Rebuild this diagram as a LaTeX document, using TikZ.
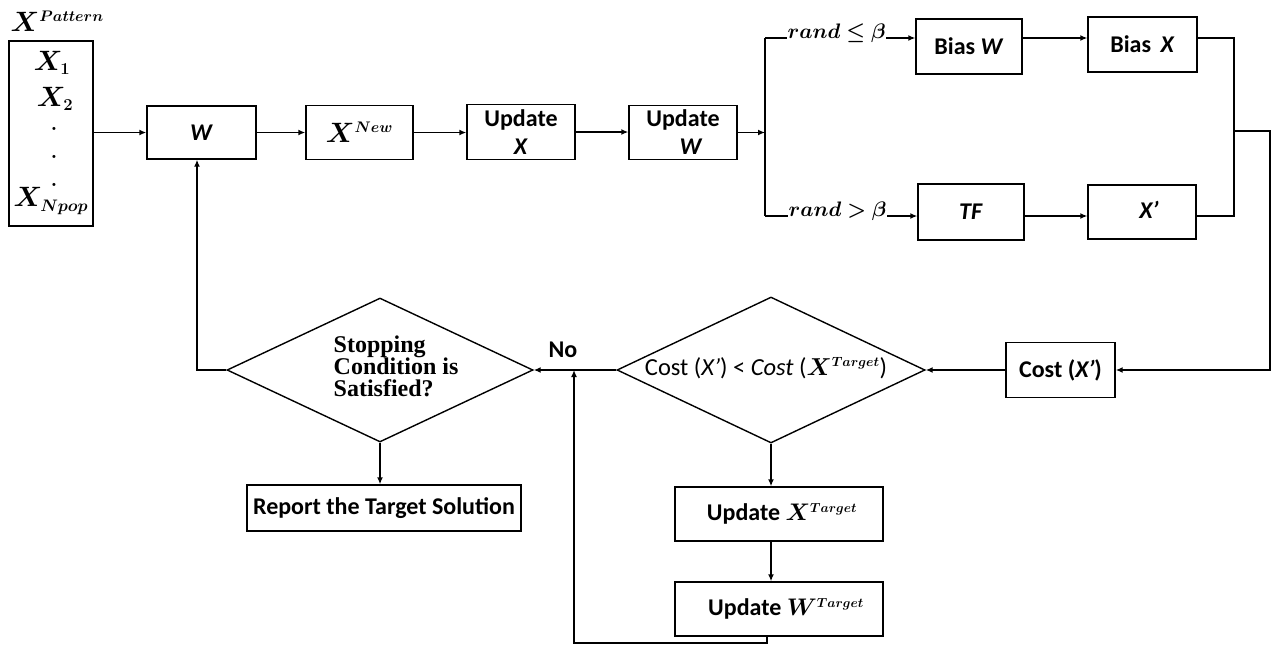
\RequirePackage{fix-cm}
\documentclass[tikz,border=0pt]{standalone}
\usepackage[no-math]{fontspec}
\usepackage{amsmath,bm}
\setmainfont{Carlito}
\newfontfamily\stopfont{Liberation Serif}
\usetikzlibrary{shapes.geometric,arrows.meta}
\newcommand\boxfont{\fontsize{24}{28}\selectfont\bfseries}
\newcommand\mathbig{\fontsize{28}{30}\selectfont}
% compact bold scripts
\newcommand\supsc[1]{^{\scalebox{0.78}{$\scriptstyle\bm{#1}$}}}
\newcommand\subsc[1]{_{\scalebox{0.85}{$\scriptstyle\bm{#1}$}}}
\begin{document}
\begin{tikzpicture}[x=1pt,y=-1pt,line width=1.4pt,
  blk/.style={draw,rectangle,inner sep=0pt,align=center,font=\boxfont},
  dia/.style={draw,diamond,inner sep=0pt},
  lbl/.style={inner sep=0pt,align=center},
  dotlbl/.style={inner sep=0pt,font=\fontsize{20}{20}\selectfont},
  arr/.style={-{Latex[length=7pt,width=6pt]}}]
\useasboundingbox (0,0) rectangle (1273,648);

% population of patterns
\node[blk,minimum width=84pt,minimum height=185pt] (pat) at (51,133.5) {};
\node[lbl,font=\mathbig,anchor=west] (pattitle) at (10,21) {$\bm{X}\supsc{Pattern}$};
\node[lbl,font=\mathbig] (x1) at (52,63) {$\bm{X}\subsc{1}$};
\node[lbl,font=\mathbig] (x2) at (55,99) {$\bm{X}\subsc{2}$};
\node[dotlbl] (d1) at (54,129) {$\bm{.}$};
\node[dotlbl] (d2) at (54,157) {$\bm{.}$};
\node[dotlbl] (d3) at (54,185) {$\bm{.}$};
\node[lbl,font=\mathbig] (xn) at (51,201) {$\bm{X}\subsc{Npop}$};

% main row
\node[blk,minimum width=109pt,minimum height=53pt] (w) at (201.5,132.5) {\textit{W}};
\node[blk,minimum width=107pt,minimum height=54pt] (xnew) at (359.5,132.5) {\mathbig$\bm{X}\supsc{New}$};
\node[blk,minimum width=108pt,minimum height=55pt] (ux) at (521,132) {Update\\\textit{X}};
\node[blk,minimum width=108pt,minimum height=54pt] (uw) at (683,132.5) {Update\\\hspace*{16pt}\textit{W}};

% branch
\coordinate (spl) at (765,132.5);
\coordinate (st) at (765,38);
\coordinate (sb) at (765,216);
\node[lbl,font=\fontsize{21}{24}\selectfont,anchor=base west] (le) at (787,38) {$\bm{rand \le \beta}$};
\node[lbl,font=\fontsize{21}{24}\selectfont,anchor=base west] (gt) at (788,216) {$\bm{rand > \beta}$};
\node[blk,minimum width=106pt,minimum height=55pt] (bw) at (969,46.5) {Bias \textit{W}};
\node[blk,minimum width=109pt,minimum height=55pt] (bx) at (1142.5,44.5) {Bias \,\textit{X}};
\node[blk,minimum width=106pt,minimum height=56pt] (tf) at (971,212) {\textit{TF}};
\node[blk,minimum width=108pt,minimum height=54pt] (xp) at (1142,212) {\hspace*{14pt}\textit{X’}\raisebox{0pt}[0pt][4pt]{}};
\coordinate (jt) at (1234,38);
\coordinate (jb) at (1234,216);
\coordinate (jm) at (1234,131);
\coordinate (rr) at (1270,131);
\coordinate (rb) at (1270,370);

% evaluation and loop
\node[blk,minimum width=109pt,minimum height=55pt] (cost) at (1060.5,370) {Cost (\textit{X’})};
\node[dia,minimum width=308pt,minimum height=146pt] (cd) at (771,370) {};
\node[lbl,font=\fontsize{24.5}{28}\selectfont] (cdt) at (766,368) {Cost (\textit{X’}) < \textit{Cost} (\({\mathbig\bm{X}}\supsc{Target}\))};
\node[dia,minimum width=306pt,minimum height=144pt] (sd) at (380,370) {};
\node[lbl,anchor=west,align=left,font=\stopfont\bfseries\fontsize{24}{22}\selectfont] (sdt) at (333,366) {Stopping\\Condition is\\Satisfied?};
\node[lbl,font=\boxfont] (no) at (563,350) {No};
\node[blk,minimum width=274pt,minimum height=46pt] (rep) at (384,508) {Report the Target Solution};
\node[blk,minimum width=208pt,minimum height=54pt] (utx) at (779,514) {\hspace*{6pt}Update \(\bm{X}\supsc{Target}\)};
\node[blk,minimum width=208pt,minimum height=54pt] (utw) at (779,609) {\hspace*{14pt}Update \(\bm{W}\supsc{Target}\)};
\coordinate (fbx) at (767,643);
\coordinate (fbl) at (574,643);
\coordinate (lp) at (197,370);

% connectors
\draw[arr] (pat.east |- w) -- (w.west);
\draw[arr] (w.east) -- (xnew.west |- w.east);
\draw[arr] (xnew.east) -- (ux.west |- xnew.east);
\draw[arr] (ux.east) -- (uw.west |- ux.east);
\draw[arr] (uw.east) -- (spl);
\draw (st) -- (sb);
\draw (st) -- (le.base west);
\draw[arr] (le.base east) -- (bw.west |- st);
\draw (sb) -- (gt.base west);
\draw[arr] (gt.base east) -- (tf.west |- sb);
\draw[arr] (bw.east |- st) -- (bx.west |- st);
\draw[arr] (tf.east |- sb) -- (xp.west |- sb);
\draw (bx.east |- jt) -- (jt) -- (jb) -- (xp.east |- jb);
\draw[arr] (jm) -- (rr) -- (rb) -- (cost.east |- rb);
\draw[arr] (cost.west) -- (cd.east);
\draw[arr] (cd.west) -- (sd.east);
\draw[arr] (cd.south) -- (cd.south |- utx.north);
\draw[arr] (cd.south |- utx.south) -- (cd.south |- utw.north);
\draw[arr] (fbx |- utw.south) -- (fbx) -- (fbl) -- (fbl |- cd.west);
\draw[arr] (sd.south) -- (sd.south |- rep.north);
\draw[arr] (sd.west) -- (lp) -- (lp |- w.south);
\end{tikzpicture}
\end{document}
